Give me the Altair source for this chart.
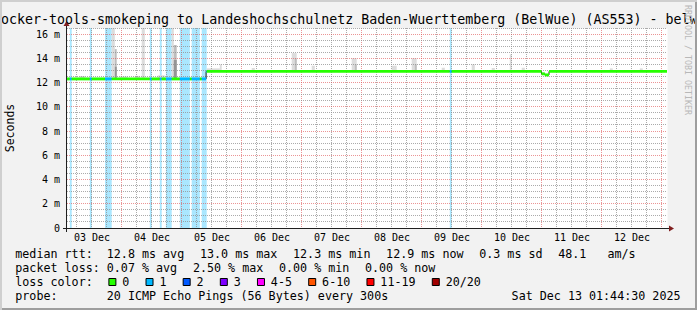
import altair as alt
import pandas as pd

# ---------------- data ----------------
title_text = "ocker-tools-smokeping to Landeshochschulnetz Baden-Wuerttemberg (BelWue) (AS553) - belw"
y_title = "Seconds"
credit_text = "RRDTOOL / TOBI OETIKER"

time_start = "2025-12-03T02:12"
time_end = "2025-12-13T02:12"
day_ticks = ["2025-12-03T12:00", "2025-12-04T12:00", "2025-12-05T12:00", "2025-12-06T12:00",
             "2025-12-07T12:00", "2025-12-08T12:00", "2025-12-09T12:00", "2025-12-10T12:00",
             "2025-12-11T12:00", "2025-12-12T12:00"]
y_ticks = [0, 2, 4, 6, 8, 10, 12, 14, 16]
y_max = 16.5

# periods with packet loss (pings lost out of 20)
loss_start = ["2025-12-03T03:20", "2025-12-03T11:20", "2025-12-03T17:25", "2025-12-04T11:20",
              "2025-12-04T15:20", "2025-12-04T17:45", "2025-12-04T23:20", "2025-12-05T04:05",
              "2025-12-05T08:05", "2025-12-09T11:20"]
loss_end = ["2025-12-03T04:05", "2025-12-03T12:05", "2025-12-03T20:05", "2025-12-04T12:05",
            "2025-12-04T16:05", "2025-12-04T20:05", "2025-12-05T03:20", "2025-12-05T07:20",
            "2025-12-05T10:05", "2025-12-09T12:05"]
loss_pings = [1, 1, 1, 1, 1, 1, 1, 1, 1, 1]

# median rtt (ms), constant from each time until the next one
median_time = ["2025-12-03T02:12", "2025-12-05T09:50", "2025-12-11T00:00", "2025-12-11T01:20",
               "2025-12-11T03:00"]
median_value = [12.3, 12.92, 12.72, 12.63, 12.92]

# smoke (ping spread), shade 0 = light, 1 = mid, 2 = dark
smoke_start = ["2025-12-03T20:05", "2025-12-03T21:20", "2025-12-03T21:20", "2025-12-04T08:05",
               "2025-12-04T20:05", "2025-12-04T20:55", "2025-12-04T20:55", "2025-12-03T07:20",
               "2025-12-03T23:20", "2025-12-04T05:20", "2025-12-04T14:30", "2025-12-05T10:05",
               "2025-12-05T15:20", "2025-12-06T04:05", "2025-12-06T20:05", "2025-12-06T21:20",
               "2025-12-07T04:05", "2025-12-07T20:05", "2025-12-07T21:20", "2025-12-08T12:05",
               "2025-12-08T20:05", "2025-12-08T21:20", "2025-12-09T08:05", "2025-12-09T20:05",
               "2025-12-10T04:05", "2025-12-10T11:20", "2025-12-10T16:05", "2025-12-12T03:20",
               "2025-12-12T15:20"]
smoke_end = ["2025-12-03T21:20", "2025-12-03T22:05", "2025-12-03T22:05", "2025-12-04T09:20",
             "2025-12-04T20:55", "2025-12-04T22:05", "2025-12-04T22:05", "2025-12-03T09:20",
             "2025-12-04T02:30", "2025-12-04T07:20", "2025-12-04T17:20", "2025-12-05T15:20",
             "2025-12-05T16:05", "2025-12-06T05:20", "2025-12-06T22:05", "2025-12-06T22:05",
             "2025-12-07T05:20", "2025-12-07T22:05", "2025-12-07T22:05", "2025-12-08T14:05",
             "2025-12-08T22:05", "2025-12-08T22:05", "2025-12-09T09:20", "2025-12-09T21:20",
             "2025-12-10T05:20", "2025-12-10T12:05", "2025-12-10T17:20", "2025-12-12T04:30",
             "2025-12-12T16:30"]
smoke_top = [16.5, 14.76, 13.3, 16.5, 16.5, 15.1, 13.86, 12.55, 12.5, 12.55, 12.6, 13.17,
             13.5, 13.2, 14.43, 14.0, 13.39, 14.0, 13.5, 13.39, 14.0, 13.5, 13.22, 13.5,
             13.2, 14.33, 13.22, 13.17, 13.17]
smoke_shade = [0, 1, 2, 0, 0, 1, 2, 0, 0, 0, 0, 0, 0, 0, 0, 1, 0, 0, 1, 0, 0, 1, 0, 0, 0, 0,
               0, 0, 0]
smoke_colors = ["#dcdcdc", "#bdbdbd", "#959595"]

stat_rows = [
    ["median rtt:  12.8 ms avg", "13.0 ms max", "12.3 ms min", "12.9 ms now", "0.3 ms sd",
     "48.1   am/s"],
    ["packet loss: 0.07 % avg", "2.50 % max", "0.00 % min", "0.00 % now"],
]
loss_title = "loss color:"
loss_labels = ["0", "1", "2", "3", "4-5", "6-10", "11-19", "20/20"]
loss_limits = [0, 1, 2, 3, 5, 10, 19, 20]
loss_colors = ["#26ff00", "#00b8ff", "#0059ff", "#7e00ff", "#ff00ff", "#ff5500", "#ff0000",
               "#a10000"]
probe_text = "probe:       20 ICMP Echo Pings (56 Bytes) every 300s"
stamp_text = "Sat Dec 13 01:44:30 2025"

# ---------------- helpers ----------------
NB = "\u00a0"
MONO = "DejaVu Sans Mono"
LEG_FS = 11.7
CW = LEG_FS * 0.60205
GAP = 15.6
OX, OY = 67, 28
W, H = 600, 200


def utc(s):
    return pd.Timestamp(s).tz_localize("UTC")


def iso(t):
    return t.strftime("%Y-%m-%dT%H:%M:%SZ")


def dt(t):
    return alt.DateTime(year=t.year, month=t.month, date=t.day, hours=t.hour,
                        minutes=t.minute, utc=True)


def bucket(n):
    for lim, lab in zip(loss_limits, loss_labels):
        if n <= lim:
            return lab
    return loss_labels[-1]


color_of = dict(zip(loss_labels, loss_colors))
T0, T1 = utc(time_start), utc(time_end)
x_scale = alt.Scale(type="utc", domain=[dt(T0), dt(T1)])
y_scale = alt.Scale(domain=[0, y_max], nice=False, zero=False)

x_axis = alt.Axis(values=[dt(utc(s)) for s in day_ticks],
                  labelExpr="utcFormat(datum.value, '%d %b')",
                  ticks=False, domain=False, grid=False, title=None,
                  labelFont=MONO, labelFontSize=10, labelColor="black",
                  labelPadding=4.5, labelFlush=False, labelOverlap=False)
y_axis = alt.Axis(values=y_ticks,
                  labelExpr="datum.value == 0 ? '0" + NB + NB + "' : datum.value + '" + NB + "m'",
                  ticks=False, domain=False, grid=False, title=None,
                  labelFont=MONO, labelFontSize=10, labelColor="black",
                  labelPadding=7.5, labelFlush=False, labelOverlap=False)


def X(f):
    return alt.X(f, scale=x_scale, axis=x_axis)


def Y(f):
    return alt.Y(f, scale=y_scale, axis=y_axis)


ls = [utc(s) for s in loss_start]
le = [utc(s) for s in loss_end]
mt = [utc(s) for s in median_time] + [T1]


def median_at(t):
    for i in range(len(median_value)):
        if mt[i] <= t < mt[i + 1]:
            return median_value[i]
    return median_value[-1]


def loss_at(t):
    return sum(p for s, e, p in zip(ls, le, loss_pings) if s <= t < e)


bands_df = pd.DataFrame({
    "t0": [iso(s) for s in ls], "t1": [iso(e) for e in le],
    "y0": 0.0, "y1": y_max,
    "hex": [color_of[bucket(p)] for p in loss_pings],
})

bounds = sorted(set(mt + ls + le))
seg = []
for a, b in zip(bounds[:-1], bounds[1:]):
    mid = a + (b - a) / 2
    v = median_at(mid)
    seg.append({"t0": iso(a), "t1": iso(b), "lo": v - 0.12, "hi": v + 0.12,
                "hex": color_of[bucket(loss_at(mid))]})
seg_df = pd.DataFrame(seg)

line_df = pd.DataFrame({"t": [iso(t) for t in mt],
                        "v": median_value + [median_value[-1]]})

smoke_df = pd.DataFrame({
    "t0": [iso(utc(s)) for s in smoke_start], "t1": [iso(utc(s)) for s in smoke_end],
    "lo": [median_at(utc(s)) for s in smoke_start], "hi": smoke_top,
    "shade": smoke_shade,
})
smoke_df["hex"] = [smoke_colors[s] for s in smoke_df["shade"]]
smoke_df = smoke_df.sort_values("shade", kind="stable")

# grid
hours = pd.date_range(T0.ceil("6h"), T1, freq="6h")
vmin_df = pd.DataFrame({"t": [iso(t) for t in hours if t.hour != 0]})
vmaj_df = pd.DataFrame({"t": [iso(t) for t in hours if t.hour == 0]})
halves = [k * 0.5 for k in range(1, int(y_max * 2) + 1)]
hmin_df = pd.DataFrame({"v": [v for v in halves if v % 2 != 0]})
hmaj_df = pd.DataFrame({"v": [v for v in halves if v % 2 == 0]})

GRID = "rgba(143,143,143,0.75)"
MGRID = "rgba(222,79,79,0.6)"

one = pd.DataFrame({"k": [0]})

layers = []
layers.append(alt.Chart(bands_df).mark_rect(opacity=0.333).encode(
    x=X("t0:T"), x2="t1:T", y=Y("y0:Q"), y2="y1:Q",
    color=alt.Color("hex:N", scale=None)))
layers.append(alt.Chart(smoke_df).mark_rect().encode(
    x=X("t0:T"), x2="t1:T", y=Y("lo:Q"), y2="hi:Q",
    color=alt.Color("hex:N", scale=None)))
for df, col in [(vmin_df, GRID), (vmaj_df, MGRID)]:
    layers.append(alt.Chart(df).mark_rule(color=col, strokeWidth=1, strokeDash=[1, 1]).encode(
        x=X("t:T"), y=alt.value(0), y2=alt.value(H)))
# horizontal grid snapped to whole pixels (as rrdtool draws it)
for df, col in [(hmin_df, GRID), (hmaj_df, MGRID)]:
    layers.append(alt.Chart(df).transform_calculate(
        py=f"floor({H} - datum.v * {H / y_max}) + 0.5"
    ).mark_rule(color=col, strokeWidth=1, strokeDash=[1, 1]).encode(
        y=alt.Y("py:Q", scale=None, axis=None), x=alt.value(0), x2=alt.value(W)))
layers.append(alt.Chart(line_df).mark_line(interpolate="step-after", color="#202020",
                                            strokeWidth=1).encode(
    x=X("t:T"), y=Y("v:Q")))
layers.append(alt.Chart(seg_df).mark_rect().encode(
    x=X("t0:T"), x2="t1:T", y=Y("lo:Q"), y2="hi:Q",
    color=alt.Color("hex:N", scale=None)))

# axes with arrows
AX = "#1f1f1f"
ARROW = "#801f1f"
layers.append(alt.Chart(one).mark_rule(color=AX, strokeWidth=1).encode(
    x=alt.value(-4), x2=alt.value(W + 3), y=alt.value(H + 0.5)))
layers.append(alt.Chart(one).mark_rule(color=AX, strokeWidth=1).encode(
    x=alt.value(-0.5), y=alt.value(H + 4), y2=alt.value(-3)))
layers.append(alt.Chart(one).mark_point(shape="M-1,-1.2L1,0L-1,1.2Z", size=25, filled=True,
                                         color=ARROW, opacity=1, strokeWidth=0).encode(
    x=alt.value(W + 4.5), y=alt.value(H + 0.5)))
layers.append(alt.Chart(one).mark_point(shape="M-1.2,1L0,-1L1.2,1Z", size=25, filled=True,
                                         color=ARROW, opacity=1, strokeWidth=0).encode(
    x=alt.value(-0.5), y=alt.value(-4.5)))


def txt(s, x, y, size=LEG_FS, align="left", baseline="alphabetic", color="black", angle=0):
    return alt.Chart(one).mark_text(text=s.replace(" ", NB), font=MONO, fontSize=size,
                                    align=align, baseline=baseline, color=color,
                                    angle=angle).encode(x=alt.value(x), y=alt.value(y))


layers.append(txt(title_text, 1.0 - OX, 23.5 - OY, size=13.3))
layers.append(txt(y_title, 14 - OX, H / 2, size=11.5, align="center", angle=270))
layers.append(txt(credit_text, 685 - OX, 60 - OY, size=8.3, align="center",
                  color="#b8b8b8", angle=90))

rows_y = [257.5 - OY, 271.5 - OY, 285.5 - OY, 299.5 - OY]
x0 = 15.3 - OX
for r, items in enumerate(stat_rows):
    x = x0
    for it in items:
        layers.append(txt(it, x, rows_y[r]))
        x += len(it) * CW + GAP

layers.append(txt(loss_title, x0, rows_y[2]))
x = x0 + len(loss_title) * CW + GAP
for lab, col in zip(loss_labels, loss_colors):
    layers.append(alt.Chart(one).mark_rect(fill=col, stroke="black", strokeWidth=1).encode(
        x=alt.value(x + 0.5), x2=alt.value(x + 7.5),
        y=alt.value(rows_y[2] - 7.0), y2=alt.value(rows_y[2])))
    layers.append(txt(lab, x + 13.9, rows_y[2]))
    x += 14.5 + len(lab) * CW + GAP

layers.append(txt(probe_text, x0, rows_y[3]))
layers.append(txt(stamp_text, 680.5 - OX, rows_y[3], align="right"))

# 3d frame
SHA, SHB = "#cfcfcf", "#9e9e9e"
layers.append(alt.Chart(one).mark_rule(color=SHA, strokeWidth=2).encode(
    x=alt.value(-OX), x2=alt.value(697 - OX), y=alt.value(1 - OY)))
layers.append(alt.Chart(one).mark_rule(color=SHA, strokeWidth=2).encode(
    x=alt.value(1 - OX), y=alt.value(-OY), y2=alt.value(310 - OY)))
layers.append(alt.Chart(one).mark_rule(color=SHB, strokeWidth=2).encode(
    x=alt.value(2 - OX), x2=alt.value(697 - OX), y=alt.value(309 - OY)))
layers.append(alt.Chart(one).mark_rule(color=SHB, strokeWidth=2).encode(
    x=alt.value(696 - OX), y=alt.value(2 - OY), y2=alt.value(310 - OY)))

chart = alt.layer(*layers).properties(
    width=W, height=H,
    autosize=alt.AutoSizeParams(type="none"),
    padding={"left": OX, "top": OY, "right": 697 - OX - W, "bottom": 310 - OY - H},
    background="#f2f2f2",
).configure_view(fill="white", stroke="transparent")

chart.save("out.html", embed_options={"renderer": "svg", "actions": False})
